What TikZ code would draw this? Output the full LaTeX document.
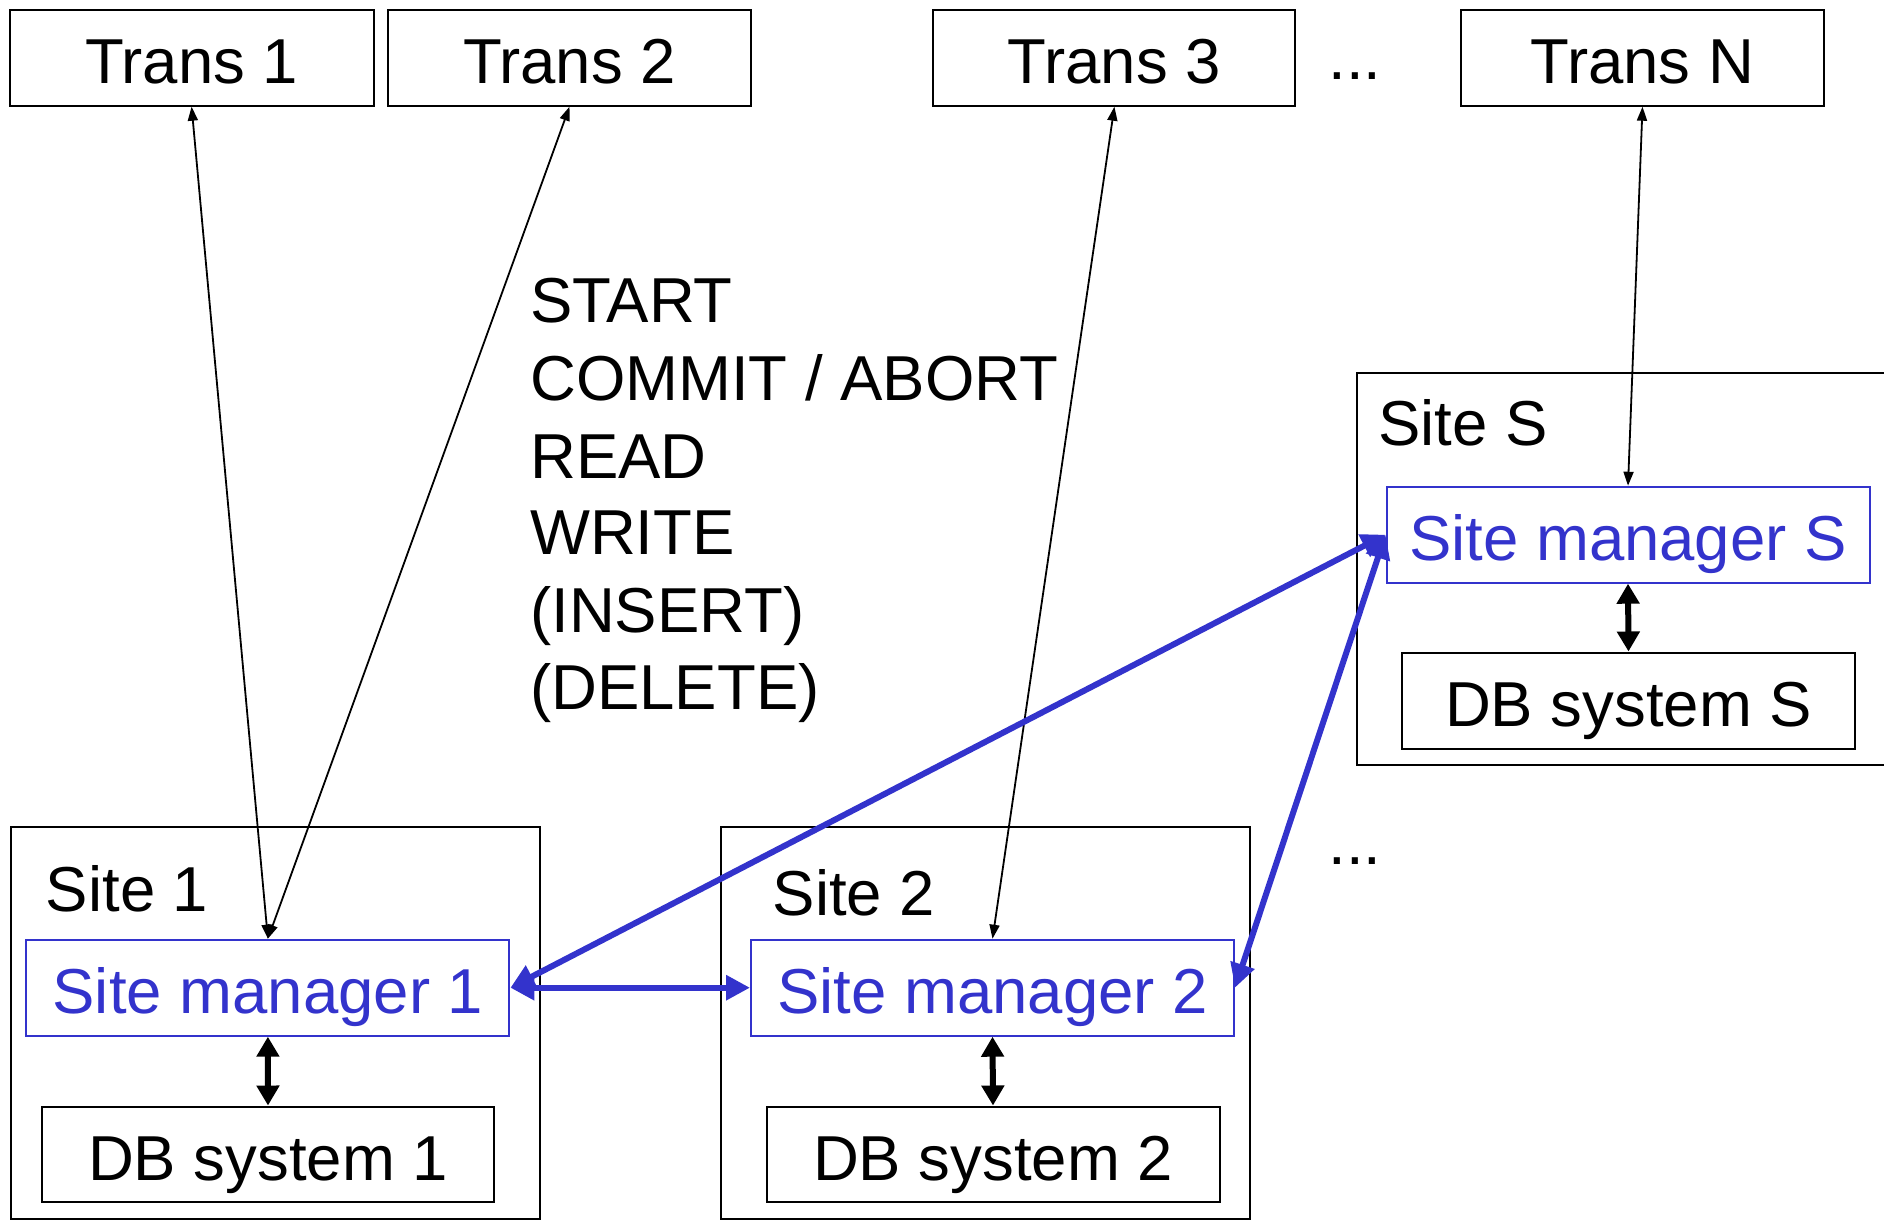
\documentclass[tikz,border=0pt]{standalone}
\usepackage{fontspec}
\setmainfont{Liberation Sans}
\usetikzlibrary{arrows.meta}
\definecolor{smblue}{RGB}{51,51,204}

\begin{document}
\begin{tikzpicture}[x=1pt,y=-1pt,
  txt/.style={font=\fontsize{63.5}{76}\selectfont},
  boxtxt/.style={txt, text height=52pt, text depth=0pt},
  box/.style={boxtxt, draw=black, line width=2pt, inner sep=0pt, minimum height=96pt},
  mgr/.style={boxtxt, draw=smblue, text=smblue, line width=2pt, inner sep=0pt,
              minimum width=483pt, minimum height=96pt},
  sitebox/.style={draw=black, line width=2pt, inner sep=0pt,
                  minimum width=528.6pt, minimum height=392pt},
  lbl/.style={txt, inner sep=0pt, anchor=base west},
  msg/.style={line width=1.8pt, {Triangle[length=14pt,width=10pt]}-{Triangle[length=14pt,width=10pt]}},
  local/.style={line width=6pt, {Triangle[length=20pt,width=22pt]}-{Triangle[length=20pt,width=22pt]}},
  peer/.style={draw=smblue, line width=6pt,
               {Triangle[length=24pt,width=24pt]}-{Triangle[length=24pt,width=24pt]}}]

\useasboundingbox (0,0) rectangle (1884,1225);
\clip (0,0) rectangle (1884,1225);

% transactions
\node[box, minimum width=364pt] (t1) at (191.6,57.7) {Trans 1};
\node[box, minimum width=363pt] (t2) at (569.5,57.7) {Trans 2};
\node[box, minimum width=362pt] (t3) at (1114.4,57.7) {Trans 3};
\node[box, minimum width=363pt] (tn) at (1642.5,57.7) {Trans N};
\node[txt, inner sep=0pt] (dotsT) at (1355,76) {...};

% sites
\node[sitebox] (site1) at (275.2,1022.5) {};
\node[sitebox] (site2) at (985.3,1022.5) {};
\node[sitebox] (siteS) at (1620.8,568.8) {};
\node[txt, inner sep=0pt] (dotsS) at (1355,861) {...};

\node[lbl] (site1l) at (45.7,911) {Site 1};
\node[lbl] (site2l) at (772.6,915) {Site 2};
\node[lbl] (siteSl) at (1378,445) {Site S};

% site managers
\node[mgr] (sm1) at (267.9,987.7) {Site manager 1};
\node[mgr] (sm2) at (992.5,987.7) {Site manager 2};
\node[mgr] (smS) at (1628,534.7) {Site manager S};

% database systems
\node[box, minimum width=452pt, minimum height=95pt] (db1) at (268,1154) {DB system 1};
\node[box, minimum width=453pt, minimum height=95pt] (db2) at (993,1154) {DB system 2};
\node[box, minimum width=453pt, minimum height=96pt] (dbS) at (1628.5,700.5) {DB system S};

% operations
\node[lbl] (op1) at (530,322) {START};
\node[lbl] (op2) at (530,400) {COMMIT / ABORT};
\node[lbl] (op3) at (530,478) {READ};
\node[lbl] (op4) at (530,554) {WRITE};
\node[lbl] (op5) at (530,632) {(INSERT)};
\node[lbl] (op6) at (530,709) {(DELETE)};

% transaction <-> site manager
\draw[msg] (t1.south) -- (sm1.north);
\draw[msg] (t2.south) -- (sm1.north);
\draw[msg] (t3.south) -- (sm2.north);
\draw[msg] (tn.south) -- (smS.north);

% site manager <-> local database
\draw[local] (sm1.south) -- (db1.north);
\draw[local] (sm2.south) -- (db2.north);
\draw[local] (smS.south) -- (dbS.north);

% site manager <-> site manager
\draw[peer] (sm1.east) -- (sm2.west);
\draw[peer] (sm1.east) -- (smS.west);
\draw[peer] (sm2.east) -- (smS.west);
\end{tikzpicture}
\end{document}
